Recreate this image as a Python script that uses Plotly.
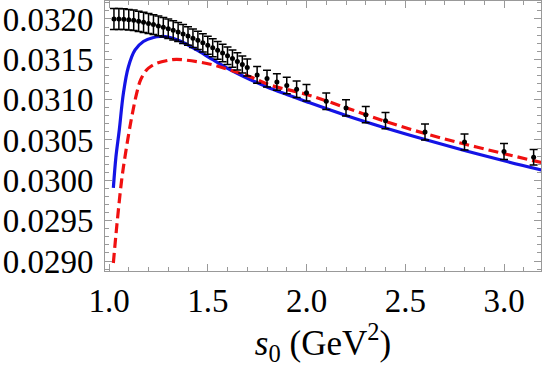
import plotly.graph_objects as go

# Data points with error bars
s0_data = [1.025, 1.05, 1.075, 1.1, 1.125, 1.15, 1.175, 1.2, 1.225, 1.25, 1.275, 1.3, 1.325, 1.35,
           1.375, 1.4, 1.425, 1.45, 1.475, 1.5, 1.525, 1.55, 1.575, 1.6, 1.625, 1.65, 1.675, 1.7,
           1.75, 1.8, 1.85, 1.9, 1.95, 2.0, 2.1, 2.2, 2.3, 2.4, 2.6, 2.8, 3.0, 3.15]
val_data = [0.032000, 0.032000, 0.031998, 0.031991, 0.031983, 0.031971, 0.031959, 0.031945,
            0.031931, 0.031914, 0.031897, 0.031879, 0.031859, 0.031838, 0.031814, 0.031789,
            0.031762, 0.031735, 0.031705, 0.031675, 0.031644, 0.031612, 0.031579, 0.031545,
            0.031510, 0.031474, 0.031437, 0.031399,
            0.031306, 0.031262, 0.031219, 0.031176, 0.031128, 0.031086, 0.030980, 0.030897,
            0.030814, 0.030740, 0.030599, 0.030475, 0.030357, 0.030286]
err_data = [0.000130, 0.000130, 0.000129, 0.000128, 0.000127, 0.000126, 0.000125, 0.000124,
            0.000123, 0.000122, 0.000121, 0.000120, 0.000119, 0.000118, 0.000117, 0.000116,
            0.000115, 0.000114, 0.000113, 0.000112, 0.000111, 0.000110, 0.000109, 0.000108,
            0.000107, 0.000106, 0.000105, 0.000105,
            0.000104, 0.000104, 0.000103, 0.000103, 0.000102, 0.000102, 0.000101, 0.000101,
            0.000100, 0.000100, 0.000099, 0.000098, 0.000098, 0.000097]

# Blue solid curve
s0_blue = [1.022, 1.035, 1.052, 1.073, 1.098, 1.132, 1.174, 1.225, 1.26, 1.30, 1.36, 1.444,
           1.528, 1.612, 1.714, 1.8, 1.9, 2.0, 2.2, 2.4, 2.6, 2.8, 3.0, 3.19]
val_blue = [0.029905, 0.030289, 0.030624, 0.031083, 0.031405, 0.031616, 0.031721, 0.031771,
            0.031783, 0.031777, 0.031727, 0.031616, 0.031492, 0.031374, 0.031250, 0.031157,
            0.031064, 0.030975, 0.030804, 0.030649, 0.030506, 0.030370, 0.030242, 0.030128]

# Red dashed curve
s0_red = [1.022, 1.04, 1.064, 1.08, 1.106, 1.12, 1.14, 1.16, 1.19, 1.215, 1.241, 1.309, 1.343,
          1.444, 1.528, 1.612, 1.714, 1.815, 2.0, 2.2, 2.4, 2.6, 2.8, 3.0, 3.19]
val_red = [0.028975, 0.029450, 0.030004, 0.030277, 0.030665, 0.030847, 0.031079, 0.031244,
           0.031368, 0.031417, 0.031451, 0.031492, 0.031500, 0.031471, 0.031430, 0.031368,
           0.031285, 0.031182, 0.031065, 0.030900, 0.030730, 0.030580, 0.030450, 0.030330,
           0.030220]

fig = go.Figure()
fig.add_trace(go.Scatter(x=s0_blue, y=val_blue, mode="lines", line_shape="spline",
                         line=dict(color="#1414e6", width=3.2), showlegend=False))
fig.add_trace(go.Scatter(x=s0_red, y=val_red, mode="lines", line_shape="spline",
                         line=dict(color="#f01010", width=3.2, dash="10px,5px"), showlegend=False))
fig.add_trace(go.Scatter(x=s0_data, y=val_data, mode="markers",
                         marker=dict(color="black", size=5),
                         error_y=dict(type="data", array=err_data, visible=True,
                                      color="black", thickness=1.5, width=4),
                         showlegend=False))

font = dict(family="Liberation Serif", size=33, color="black")
title_font = dict(family="Liberation Serif", size=35, color="black")
axis_common = dict(showline=True, linecolor="#999999", linewidth=1, mirror="allticks",
                   ticks="inside", ticklen=7, tickcolor="#999999", tickwidth=1,
                   showgrid=False, zeroline=False, tickfont=font, automargin=False)

fig.update_xaxes(range=[0.9797, 3.1873], tick0=1.0, dtick=0.5, tickformat=".1f",
                 minor=dict(dtick=0.1, ticks="inside", ticklen=4, tickcolor="#999999"),
                 title=dict(text="<i>s</i><sub>0</sub> (GeV<sup>2</sup>)", font=title_font, standoff=0),
                 ticklabelstandoff=0,
                 **axis_common)
fig.update_yaxes(range=[0.028876, 0.032223], tick0=0.029, dtick=0.0005, tickformat=".4f",
                 minor=dict(dtick=0.0001, ticks="inside", ticklen=4, tickcolor="#999999"),
                 ticklabelstandoff=4,
                 **axis_common)

fig.update_layout(width=545, height=367, margin=dict(l=105, r=4, t=1, b=96),
                  plot_bgcolor="white", paper_bgcolor="white", font=font)
fig.write_html("out.html", config={"displayModeBar": False},
               post_script="document.body.style.margin='0';document.body.style.overflow='hidden';")
